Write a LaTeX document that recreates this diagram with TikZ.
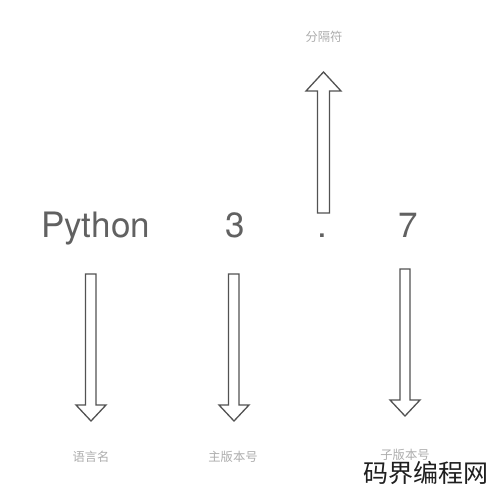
\documentclass[tikz,border=0pt]{standalone}
\usepackage{fontspec}
\setmainfont{TeX Gyre Heros}
\newfontfamily\cjk{Noto Sans CJK SC}
\begin{document}
\begin{tikzpicture}[x=1pt,y=-1pt,
  blockarrow/.style={draw=black!68,line width=1.3pt,line join=miter,fill=white},
  bigtext/.style={text=black!62,font=\fontsize{35}{35}\selectfont,inner sep=0pt,anchor=base},
  smalllabel/.style={text=black!32,font=\cjk\fontsize{12.3}{12.3}\selectfont,inner sep=0pt},
  watermark/.style={text=black!88,font=\cjk\fontsize{25}{25}\selectfont,inner sep=0pt}]
\useasboundingbox (0,0) rectangle (490,491);
\fill[white] (0,0) rectangle (490,491);
% up arrow (separator)
\draw[blockarrow] (317.5,213) -- (329.5,213) -- (329.5,91) -- (341,91) -- (323.5,72) -- (306,91) -- (317.5,91) -- cycle;
% down arrows
\draw[blockarrow] (85.5,274) -- (96,274) -- (96,405) -- (106,405) -- (91,421) -- (76,405) -- (85.5,405) -- cycle;
\draw[blockarrow] (228.5,274) -- (239,274) -- (239,405) -- (249,405) -- (234,421) -- (219,405) -- (228.5,405) -- cycle;
\draw[blockarrow] (400,269) -- (410,269) -- (410,400) -- (420,400) -- (405,416) -- (390,400) -- (400,400) -- cycle;
% main text
\node[bigtext] (py) at (95.5,237) {Python};
\node[bigtext] (three) at (235,237) {3};
\node[bigtext] (dot) at (322,237) {.};
\node[bigtext] (seven) at (408,237) {7};
% labels
\node[smalllabel] (sep) at (324,37) {分隔符};
\node[smalllabel] (lang) at (91,457) {语言名};
\node[smalllabel] (major) at (233,457) {主版本号};
\node[smalllabel] (minor) at (405,455) {子版本号};
\node[watermark] (wm) at (425.5,473) {码界编程网};
\end{tikzpicture}
\end{document}
